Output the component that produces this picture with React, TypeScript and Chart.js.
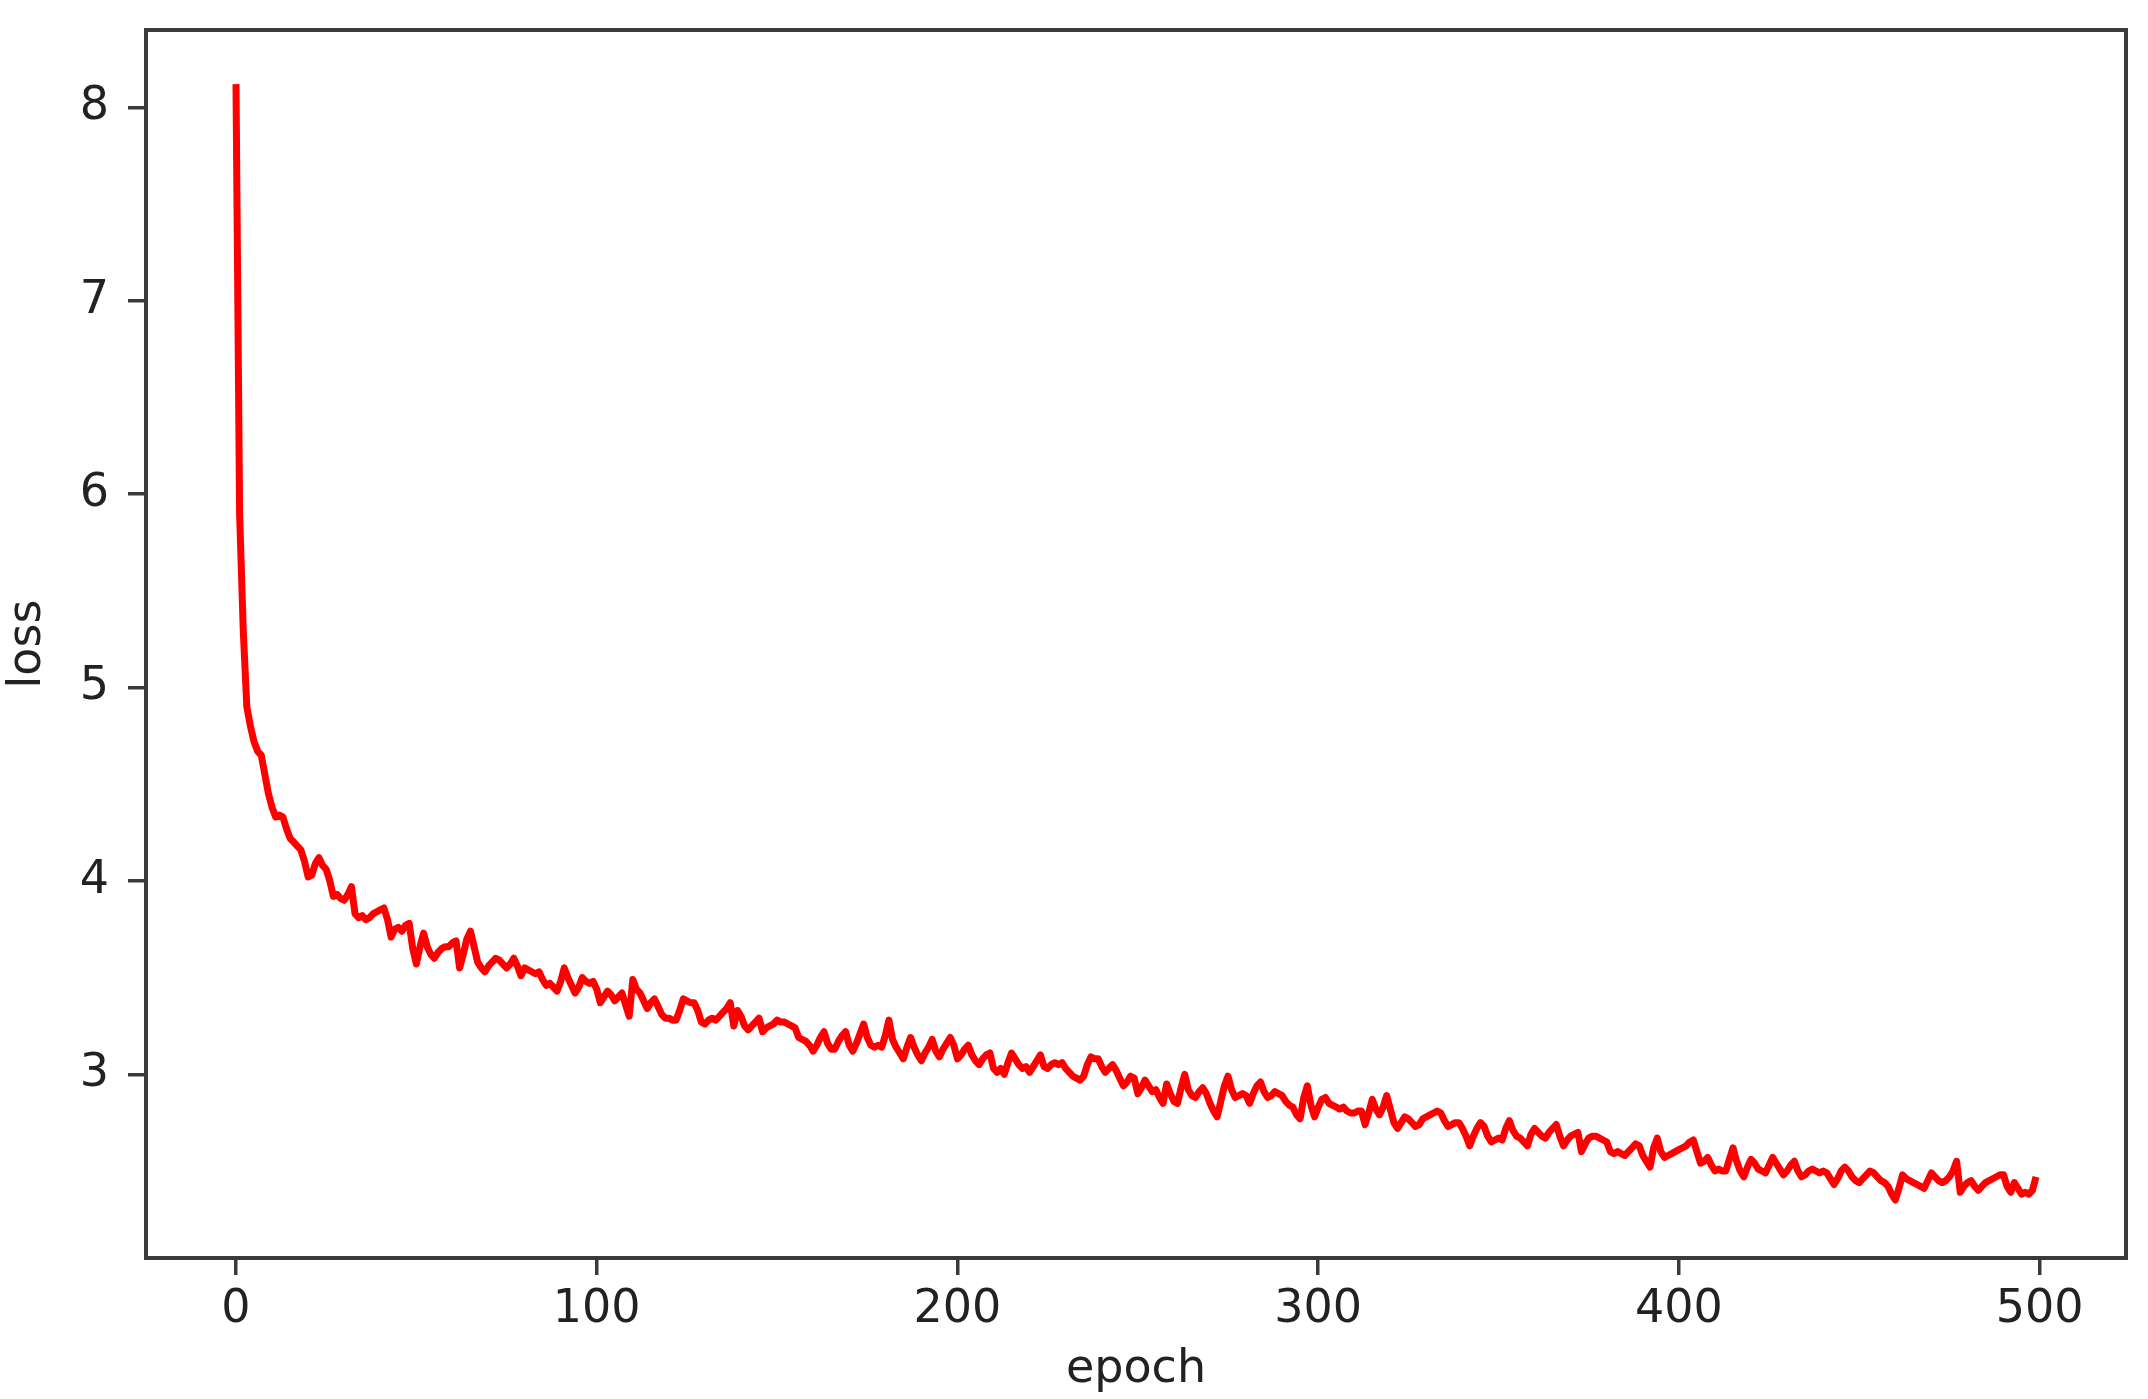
import React, { useEffect, useRef } from "react";
import { Chart, registerables } from "chart.js";

Chart.register(...registerables);

// Training loss, one value per epoch (0..499)
const lossEpochs000to099 = [
  8.12, 5.9, 5.3, 4.9, 4.8, 4.72, 4.67, 4.65, 4.55, 4.45,
  4.38, 4.33, 4.34, 4.33, 4.27, 4.22, 4.2, 4.18, 4.16, 4.1,
  4.02, 4.03, 4.09, 4.12, 4.08, 4.06, 4.0, 3.92, 3.93, 3.91,
  3.9, 3.93, 3.97, 3.83, 3.81, 3.82, 3.8, 3.81, 3.83, 3.84,
  3.85, 3.86, 3.8, 3.71, 3.75, 3.76, 3.74, 3.77, 3.78, 3.65,
  3.57, 3.66, 3.73, 3.66, 3.62, 3.6, 3.63, 3.65, 3.66, 3.66,
  3.68, 3.69, 3.55, 3.62, 3.7, 3.74, 3.66, 3.58, 3.55, 3.53,
  3.56, 3.58, 3.6, 3.59, 3.57, 3.55, 3.57, 3.6, 3.56, 3.51,
  3.55, 3.54, 3.53, 3.52, 3.53, 3.49, 3.46, 3.47, 3.45, 3.43,
  3.48, 3.55, 3.5, 3.46, 3.42, 3.45, 3.5, 3.48, 3.47, 3.48,
];
const lossEpochs100to199 = [
  3.44, 3.37, 3.4, 3.43, 3.41, 3.38, 3.4, 3.42, 3.36, 3.3,
  3.49, 3.44, 3.42, 3.38, 3.34, 3.37, 3.39, 3.35, 3.31, 3.29,
  3.29, 3.28, 3.28, 3.33, 3.39, 3.38, 3.37, 3.37, 3.33, 3.27,
  3.26, 3.28, 3.29, 3.28, 3.3, 3.32, 3.34, 3.37, 3.25, 3.33,
  3.3, 3.25, 3.23, 3.25, 3.27, 3.29, 3.22, 3.24, 3.25, 3.26,
  3.28, 3.27, 3.27, 3.26, 3.25, 3.24, 3.19, 3.18, 3.17, 3.15,
  3.12, 3.15, 3.19, 3.22, 3.16, 3.13, 3.13, 3.17, 3.2, 3.22,
  3.15, 3.12, 3.16, 3.21, 3.26, 3.19, 3.15, 3.14, 3.15, 3.14,
  3.2, 3.28, 3.18, 3.14, 3.11, 3.08, 3.14, 3.19, 3.14, 3.1,
  3.07, 3.11, 3.14, 3.18, 3.12, 3.09, 3.13, 3.16, 3.19, 3.15,
];
const lossEpochs200to299 = [
  3.08, 3.1, 3.13, 3.15, 3.1, 3.07, 3.05, 3.08, 3.1, 3.11,
  3.03, 3.01, 3.03, 3.0, 3.06, 3.11, 3.08, 3.05, 3.03, 3.04,
  3.01, 3.04, 3.07, 3.1, 3.04, 3.03, 3.05, 3.06, 3.05, 3.06,
  3.03, 3.01, 2.99, 2.98, 2.97, 2.99, 3.05, 3.09, 3.08, 3.08,
  3.04, 3.01, 3.03, 3.05, 3.02, 2.98, 2.94, 2.96, 2.99, 2.98,
  2.9, 2.93, 2.97, 2.94, 2.91, 2.92, 2.88, 2.85, 2.95, 2.9,
  2.86, 2.85, 2.93, 3.0, 2.92, 2.89, 2.88, 2.91, 2.93, 2.9,
  2.85, 2.81, 2.78, 2.86, 2.94, 2.99, 2.92, 2.88, 2.89, 2.9,
  2.89, 2.85, 2.9, 2.94, 2.96, 2.91, 2.88, 2.89, 2.91, 2.9,
  2.89, 2.86, 2.84, 2.83, 2.79, 2.77, 2.88, 2.94, 2.84, 2.78,
];
const lossEpochs300to399 = [
  2.83, 2.87, 2.88, 2.85, 2.84, 2.83, 2.82, 2.83, 2.81, 2.8,
  2.8, 2.81, 2.81, 2.74, 2.8, 2.87, 2.82, 2.79, 2.83, 2.89,
  2.82, 2.75, 2.72, 2.75, 2.78, 2.77, 2.75, 2.73, 2.74, 2.77,
  2.78, 2.79, 2.8, 2.81, 2.8, 2.76, 2.73, 2.74, 2.75, 2.75,
  2.72, 2.68, 2.63, 2.68, 2.72, 2.75, 2.73, 2.68, 2.65, 2.66,
  2.67, 2.66, 2.72, 2.76, 2.71, 2.68, 2.67, 2.65, 2.63, 2.69,
  2.72, 2.7, 2.68, 2.67, 2.7, 2.72, 2.74, 2.68, 2.63, 2.66,
  2.68, 2.69, 2.7, 2.6, 2.64, 2.67, 2.68, 2.68, 2.67, 2.66,
  2.65, 2.6, 2.59, 2.6, 2.59, 2.58, 2.6, 2.62, 2.64, 2.63,
  2.58, 2.55, 2.52, 2.62, 2.67, 2.6, 2.57, 2.58, 2.59, 2.6,
];
const lossEpochs400to499 = [
  2.61, 2.62, 2.63, 2.65, 2.66, 2.6, 2.54, 2.55, 2.57, 2.53,
  2.5, 2.51, 2.5, 2.5, 2.56, 2.62, 2.55, 2.5, 2.47, 2.52,
  2.56, 2.54, 2.51, 2.5, 2.49, 2.53, 2.57, 2.54, 2.51, 2.48,
  2.5, 2.53, 2.55, 2.5, 2.47, 2.48, 2.5, 2.51, 2.5, 2.49,
  2.5, 2.49, 2.46, 2.43, 2.46, 2.5, 2.52, 2.5, 2.47, 2.45,
  2.44, 2.46, 2.48, 2.5, 2.49, 2.47, 2.45, 2.44, 2.42, 2.38,
  2.35, 2.41, 2.48, 2.46, 2.45, 2.44, 2.43, 2.42, 2.41, 2.45,
  2.49, 2.47, 2.45, 2.44, 2.45, 2.47, 2.5, 2.55, 2.39, 2.42,
  2.44, 2.45, 2.42, 2.4, 2.42, 2.44, 2.45, 2.46, 2.47, 2.48,
  2.48, 2.42, 2.39, 2.44, 2.41, 2.38, 2.39, 2.38, 2.4, 2.47,
];

const xTickValues = [0, 100, 200, 300, 400, 500];
const yTickValues = [3, 4, 5, 6, 7, 8];
const xAxisLabel = "epoch";
const yAxisLabel = "loss";

const FONT = "'DejaVu Sans', 'Liberation Sans', sans-serif";
const TEXT_COLOR = "#222222";
const AXIS_COLOR = "#3a3a3a";

export default function App() {
  const canvasRef = useRef<HTMLCanvasElement | null>(null);

  useEffect(() => {
    document.body.style.margin = "0";
    const canvas = canvasRef.current;
    if (!canvas) return;

    const loss = [
      ...lossEpochs000to099,
      ...lossEpochs100to199,
      ...lossEpochs200to299,
      ...lossEpochs300to399,
      ...lossEpochs400to499,
    ];
    const points = loss.map((y, epoch) => ({ x: epoch, y }));

    const framePlugin = {
      id: "frame",
      afterDatasetsDraw(chart: any) {
        const { ctx, chartArea } = chart;
        ctx.save();
        ctx.strokeStyle = AXIS_COLOR;
        ctx.lineWidth = 4;
        ctx.strokeRect(
          chartArea.left,
          chartArea.top,
          chartArea.right - chartArea.left,
          chartArea.bottom - chartArea.top
        );
        ctx.restore();
      },
    };

    const tickFont = { family: FONT, size: 46 };

    const chart = new Chart(canvas, {
      type: "line",
      data: {
        datasets: [
          {
            data: points,
            borderColor: "#ff0000",
            borderWidth: 7,
            pointRadius: 0,
            tension: 0,
            fill: false,
            borderJoinStyle: "round",
          },
        ],
      },
      options: {
        responsive: false,
        animation: false,
        devicePixelRatio: 1,
        layout: { padding: { top: 30, right: 22, left: 0, bottom: 0 } },
        plugins: {
          legend: { display: false },
          tooltip: { enabled: false },
        },
        scales: {
          x: {
            type: "linear",
            min: -24.95,
            max: 523.95,
            afterBuildTicks: (scale: any) => {
              scale.ticks = xTickValues.map((value) => ({ value }));
            },
            afterFit: (scale: any) => {
              scale.height = 141;
              scale.paddingLeft = 0;
              scale.paddingRight = 0;
            },
            grid: {
              drawOnChartArea: false,
              drawTicks: true,
              tickLength: 17,
              lineWidth: 3.5,
              color: AXIS_COLOR,
            },
            border: { display: false },
            ticks: {
              font: tickFont,
              color: TEXT_COLOR,
              padding: 7,
              maxRotation: 0,
              autoSkip: false,
            },
            title: {
              display: true,
              text: xAxisLabel,
              font: tickFont,
              color: TEXT_COLOR,
              padding: { top: 0, bottom: 1 },
            },
          },
          y: {
            type: "linear",
            min: 2.05,
            max: 8.4,
            afterBuildTicks: (scale: any) => {
              scale.ticks = yTickValues.map((value) => ({ value }));
            },
            afterFit: (scale: any) => {
              scale.width = 146;
              scale.paddingTop = 0;
              scale.paddingBottom = 0;
            },
            grid: {
              drawOnChartArea: false,
              drawTicks: true,
              tickLength: 18,
              lineWidth: 3.5,
              color: AXIS_COLOR,
            },
            border: { display: false },
            ticks: {
              font: tickFont,
              color: TEXT_COLOR,
              padding: 19,
              autoSkip: false,
            },
            title: {
              display: true,
              text: yAxisLabel,
              font: tickFont,
              color: TEXT_COLOR,
              padding: { top: 0, bottom: 0 },
            },
          },
        },
      },
      plugins: [framePlugin],
    });

    return () => {
      chart.destroy();
    };
  }, []);

  return (
    <canvas
      ref={canvasRef}
      width={2148}
      height={1399}
      style={{ display: "block", width: 2148, height: 1399 }}
    />
  );
}
